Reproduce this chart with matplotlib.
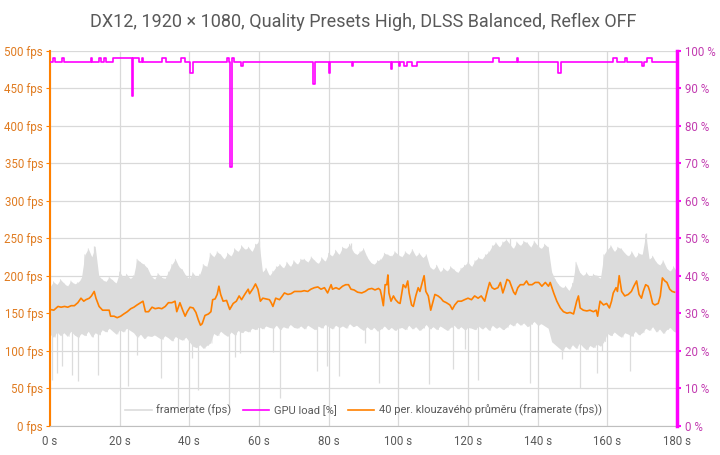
import matplotlib
matplotlib.use("Agg")
import matplotlib.pyplot as plt
from matplotlib.lines import Line2D
import numpy as np

plt.rcParams['font.family'] = ['Roboto', 'DejaVu Sans']

TITLE = "DX12, 1920 × 1080, Quality Presets High, DLSS Balanced, Reflex OFF"

# framerate band, read per second (0..180 s): upper and lower edge of the grey trace
fps_hi = [185, 192, 188, 195, 190, 186, 193, 189, 191, 196,
          228, 236, 225, 238,
          200, 195, 192, 198, 194, 190,
          205, 198, 202, 196, 200,
          222, 218, 215, 210,
          200, 195, 203, 198, 196, 205,
          215, 222, 212, 208,
          200, 196, 204, 198, 202, 215, 212,
          230, 225, 232, 228, 222, 230, 226,
          236, 232, 240, 235, 238, 232, 242, 245,
          205, 210, 200, 206, 212,
          215, 210, 218, 212, 220, 215, 222,
          222, 218, 225, 220, 216, 224, 219,
          230, 226, 234, 228, 238, 236, 242, 232, 228,
          232, 236, 225, 218, 215, 220, 222,
          230, 228, 226, 232, 228, 225,
          232, 228, 235, 226, 230, 224, 228,
          212, 208, 214, 205, 210, 206, 212, 208, 204, 210,
          214, 218, 212, 220, 224, 222, 228, 232,
          240, 244, 238, 245, 248, 242, 236, 245, 240, 246,
          244, 238, 246, 240, 236, 242, 238,
          205, 195, 188, 184, 186, 180, 190,
          218, 205, 200, 204, 198, 202, 200, 196,
          228, 235, 240, 232, 238,
          236, 230, 226, 232, 224, 230, 228,
          255, 222, 226, 218, 214, 220,
          210, 206, 212, 205]
fps_lo = [122, 118, 125, 120, 124, 119, 126, 121, 118, 123,
          120, 126, 118, 124, 121,
          128, 125, 130, 126, 122, 128, 125, 130, 127, 124,
          118, 122, 116, 120, 119, 121,
          118, 115, 120, 117, 113, 119, 116, 114, 118, 112,
          106, 104, 108, 103, 107, 110,
          123, 120, 126, 122, 119, 125, 121, 127, 124,
          127, 125, 130, 128, 132, 129, 133, 131, 130, 134, 128, 132, 130, 135, 131,
          130, 133, 129, 134, 131, 128, 133, 130, 135, 132, 129, 134, 131, 133, 130, 136, 132, 134,
          130, 127, 132, 128, 131, 126, 129, 133, 128, 131, 127, 130,
          131, 128, 134, 129, 132, 127, 130, 135, 129, 132, 128, 133, 130, 127, 131, 134, 129, 132, 128, 131,
          130, 128, 133, 129, 132, 127, 134, 130, 132, 128, 131,
          136, 133, 138, 134, 137, 132, 135, 139, 134, 136, 133, 130,
          112, 108, 104, 100, 106, 102, 108, 103, 110, 105, 101, 107, 104, 109, 106, 112,
          123, 120, 125, 121, 118, 124, 122, 119, 126, 121, 124,
          130, 127, 132, 125, 129, 123, 128, 131, 126, 124]

# single-frame drops and peaks of the framerate trace
spike_t = [0.7, 1.9, 3.5, 6.2, 8.1, 13.8, 22.4, 24.9, 31.9, 36.7, 40.7, 42.5, 51.5,
           53.0, 54.5, 64.0, 66.0, 76.6, 79.4, 82.9, 90.3, 94.5, 108.8, 115.7, 119.0,
           123.0, 137.7, 147.0, 152.2, 157.1, 158.6, 166.5]
spike_v = [61, 70, 80, 67, 60, 68, 53, 94, 64, 25, 90, 48, 25,
           91, 97, 98, 37, 73, 80, 66, 110, 57, 55, 75, 102,
           61, 57, 89, 50, 70, 100, 73]
peak_t = [12.5, 59.9, 86.4, 132.0, 171.0]
peak_v = [239, 246, 244, 250, 257]

# 40-period moving average (orange)
ma_t = [0, 1.1, 2.3, 3.2, 4.2, 5.1, 6.1, 7, 8, 8.9, 9.7, 10.3, 11.3, 11.9, 12.7, 13.2,
        14.1, 15.1, 16, 17, 17.4, 18.4, 19.3, 20.3, 21.2, 22.2, 23.2, 24.1, 25, 26, 26.7,
        27.4, 28.3, 29.3, 30.2, 31.2, 32.1, 33.1, 34, 35, 35.9, 36.4, 37.3, 38.1, 38.8,
        39.4, 40.2, 41.1, 41.9, 42.6, 43.2, 43.7, 44.5, 45.5, 46.2, 46.7, 47.4, 48, 48.5,
        49, 49.7, 50.7, 51.6, 52.6, 53.5, 54.3, 55, 55.9, 56.9, 57.3, 58.3, 59, 59.7,
        60.4, 61.1, 62.1, 63, 63.5, 64, 64.8, 65.9, 66.7, 67.3, 68.3, 69.2, 70.2, 71.1,
        72.1, 73, 74, 74.9, 75.9, 76.9, 77.8, 78.8, 79.7, 80.7, 81.1, 82.1, 83, 84, 84.9,
        85.7, 86.4, 87.3, 88.3, 89.5, 90.5, 91.4, 92.4, 93.3, 94.3, 94.8, 95.2, 95.7,
        96.2, 96.7, 97, 97.3, 97.9, 98.6, 99.2, 100, 100.5, 101, 101.4, 102.1, 102.7,
        103.1, 103.8, 104.3, 105, 105.7, 106.2, 106.7, 107.4, 107.9, 108.6, 109.3, 110,
        110.5, 111.4, 112.2, 112.9, 113.8, 114.8, 115.5, 116.2, 117.1, 118.1, 119, 120,
        121, 121.9, 122.9, 123.8, 124.8, 125.5, 126.2, 126.9, 127.6, 128.6, 129.3, 130,
        130.5, 131.2, 131.9, 132.6, 133.1, 133.6, 134.3, 135, 136, 136.8, 137.4, 138.4,
        139.3, 140.3, 141.2, 142.2, 143.1, 143.6, 144.6, 145.5, 146.5, 147.4, 148.4,
        149.3, 150.3, 151.2, 151.7, 152.2, 153.1, 154.1, 155, 156, 156.8, 157.2, 157.9,
        158.9, 159.8, 160.6, 161.2, 161.7, 162.5, 162.9, 163.4, 164.1, 165, 166, 166.9,
        167.6, 168.4, 169.1, 169.8, 170.3, 171, 171.7, 172.2, 173, 173.6, 174.6, 175.2,
        175.8, 176.5, 177.1, 177.9, 178.6, 179.3]
ma_v = [155, 154, 159, 158, 159, 158, 160, 160, 164, 170, 166, 168, 170, 173, 179, 170,
        159, 154, 154, 154, 146, 146, 144, 146, 149, 152, 156, 158, 161, 164, 166,
        152, 152, 158, 156, 157, 156, 159, 164, 164, 166, 152, 164, 154, 146,
        152, 158, 157, 151, 141, 134, 136, 147, 149, 152, 168, 169, 175, 186,
        175, 166, 167, 155, 163, 166, 173, 168, 175, 182, 176, 183, 189, 182,
        166, 170, 169, 168, 164, 159, 170, 168, 173, 177, 175, 176, 179, 179,
        179, 180, 179, 182, 184, 185, 182, 184, 177, 188, 182, 184, 182, 186, 188,
        188, 182, 181, 178, 177, 179, 182, 183, 181, 183, 181, 173, 160,
        188, 188, 201, 177, 166, 173, 168, 164, 163, 177, 188, 184, 193,
        177, 161, 159, 173, 184, 179, 188, 200, 179, 173, 154, 166,
        175, 173, 170, 166, 164, 161, 155, 161, 166, 166, 168, 170,
        168, 173, 170, 173, 166, 179, 191, 184, 182, 184, 191, 177,
        184, 195, 193, 184, 178, 175, 184, 188, 188, 193, 188, 188,
        191, 191, 186, 191, 186, 191, 177, 166, 157, 152, 150,
        151, 149, 166, 173, 157, 154, 153, 154, 152, 154, 146, 166,
        161, 163, 157, 166, 177, 184, 179, 200, 179, 173, 175, 179,
        186, 193, 175, 170, 179, 188, 186, 179, 163, 161, 163, 173,
        197, 193, 191, 182, 179, 178]

# GPU load [%], change points of the step trace
gpu_t = [0, 0.96, 1.44, 3.54, 4.02, 11.7, 12.1, 14.1, 14.6, 15.5, 16.1, 18.2, 23.5, 23.8,
         25.6, 26.3, 26.8, 32.2, 33.3, 37.6, 38.8, 40.2, 41.0, 50.9, 51.5, 51.7, 52.3, 52.9,
         54.8, 55.5, 75.6, 76.2, 80.2, 80.5, 86.6, 87.1, 97.8, 98.3, 100.2, 100.6, 101.7,
         102.4, 103.8, 105.3, 127.1, 129.0, 134.0, 134.4, 145.9, 146.6, 161.7, 162.7, 165.2,
         165.7, 169.9, 170.6, 171.3, 172.7, 179.7]
gpu_v = [97, 98, 97, 98, 97, 98, 97, 98, 97, 98, 97, 98, 88, 98,
         97, 98, 97, 98, 97, 98, 97, 94, 97, 98, 97, 69, 98, 97,
         96, 97, 91, 97, 94, 97, 96, 97, 95, 97, 96, 97, 96,
         97, 96, 97, 98, 97, 98, 97, 94, 97, 98, 97, 98,
         97, 96, 97, 98, 97, 97]

GREY = '#DCDCDC'
ORANGE = '#FF8000'
MAGENTA = '#FF00FF'

fig = plt.figure(figsize=(7.2, 4.55), dpi=100)
ax = fig.add_axes([0.0694, 0.0644, 0.8709, 0.8242])
ax2 = ax.twinx()

sec = np.arange(len(fps_hi))
ax.fill_between(sec, fps_lo, fps_hi, color=GREY, lw=0, zorder=2)
# zigzag trace between the edges so the band looks like a dense line
zz_t = np.ravel(np.column_stack([sec, sec + 0.5]))[:-1]
zz_v = np.ravel(np.column_stack([fps_hi, fps_lo]))[:-1]
ax.plot(zz_t, zz_v, color=GREY, lw=0.6, zorder=2)
ax.vlines(spike_t, spike_v, 135, color=GREY, lw=0.9, zorder=2)
ax.vlines(peak_t, 200, peak_v, color=GREY, lw=0.9, zorder=2)
ax.plot(ma_t, ma_v, color=ORANGE, lw=1.2, zorder=4)

ax2.plot(gpu_t, gpu_v, color=MAGENTA, lw=1.2, drawstyle='steps-post', zorder=3)

ax.set_xlim(0, 180)
ax.set_ylim(0, 500)
ax2.set_ylim(0, 100)
ax.set_xticks(np.arange(0, 181, 20))
ax.set_yticks(np.arange(0, 501, 50))
ax2.set_yticks(np.arange(0, 101, 10))
ax.set_xticklabels([f"{v} s" for v in range(0, 181, 20)])
ax.set_yticklabels([f"{v} fps" for v in range(0, 501, 50)])
ax2.set_yticklabels([f"{v} %" for v in range(0, 101, 10)])

ax.grid(True, color='#D9D9D9', lw=0.9, zorder=0)
ax.set_axisbelow(True)

ax.tick_params(axis='x', length=0, labelsize=8.3, labelcolor='#595959', pad=7)
ax.tick_params(axis='y', length=3, color=ORANGE, labelsize=8.3, labelcolor='#E07B20', pad=2)
ax2.tick_params(axis='y', length=3, width=1.5, color=MAGENTA, labelsize=8.3,
                labelcolor='#C23BB0', pad=3)

ax.spines['top'].set_visible(False)
ax2.spines['top'].set_visible(False)
ax2.spines['left'].set_visible(False)
ax2.spines['bottom'].set_visible(False)
ax.spines['right'].set_visible(False)
ax.spines['left'].set_color(ORANGE)
ax.spines['left'].set_linewidth(1.5)
ax2.spines['right'].set_color(MAGENTA)
ax2.spines['right'].set_linewidth(2.5)
ax.spines['bottom'].set_color('#BFBFBF')

ax.set_title(TITLE, fontsize=13, color='#595959', pad=17)

handles = [Line2D([], [], color=GREY, lw=1.2),
           Line2D([], [], color=MAGENTA, lw=1.2),
           Line2D([], [], color=ORANGE, lw=1.2)]
labels = ["framerate (fps)", "GPU load [%]", "40 per. klouzavého průměru (framerate (fps))"]
leg = ax2.legend(handles, labels, loc='center', bbox_to_anchor=(0.5, 0.04), ncol=3,
                 frameon=False, fontsize=8, handlelength=2.4, columnspacing=1.0,
                 handletextpad=0.4)
for t in leg.get_texts():
    t.set_color('#595959')

fig.savefig("out.png", dpi=100)
